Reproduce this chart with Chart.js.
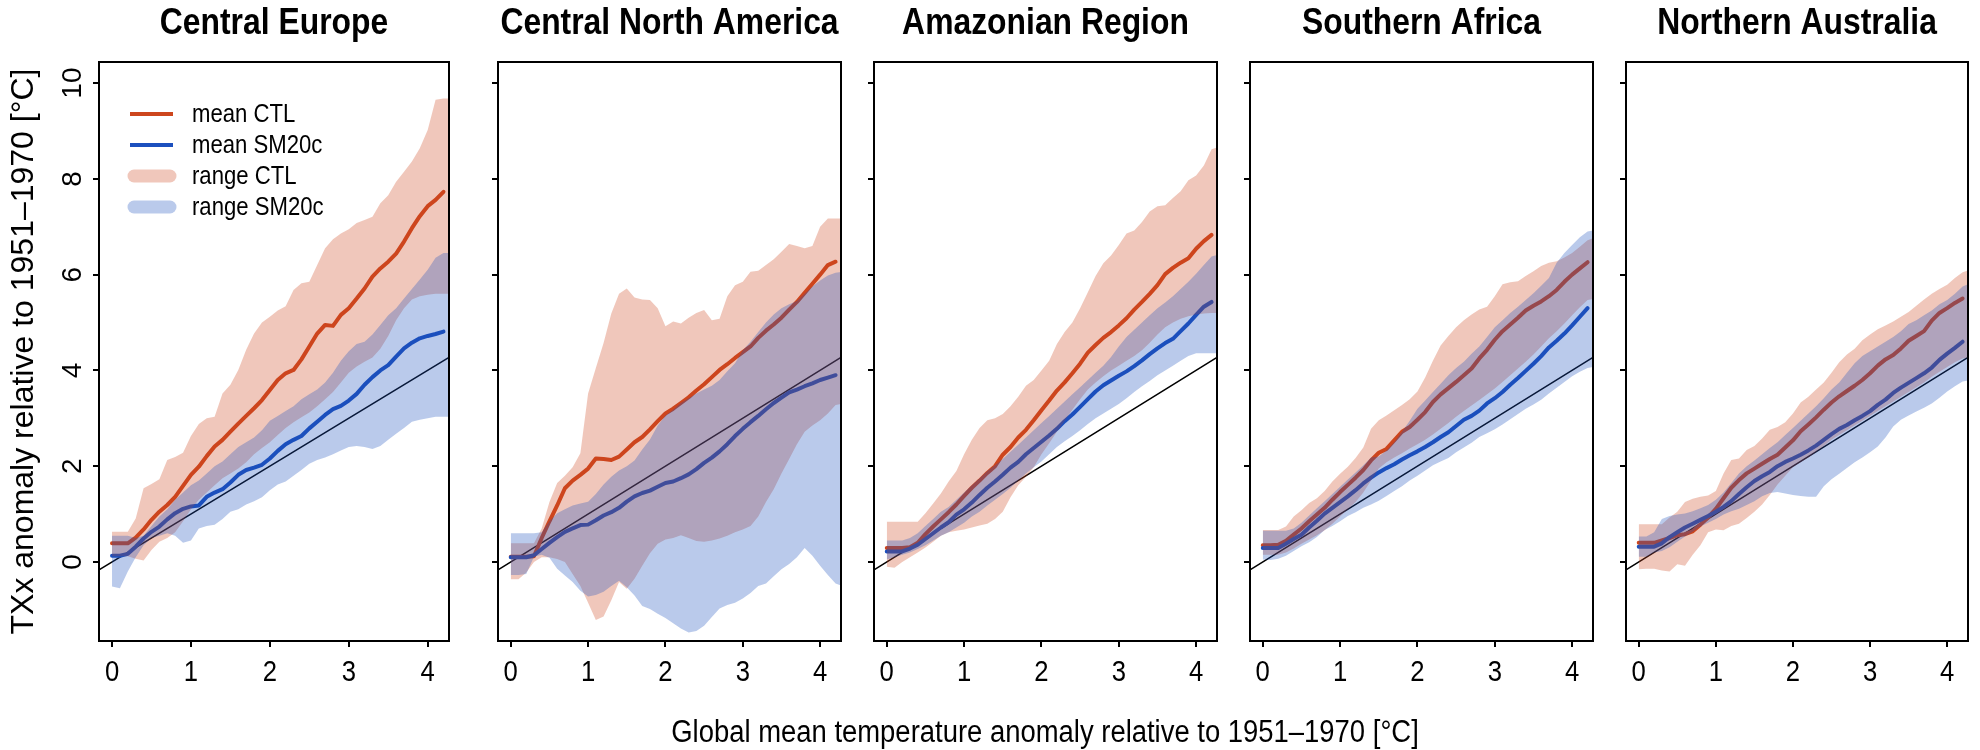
<!DOCTYPE html>
<html lang="en">
<head>
  <meta charset="UTF-8">
  <title>TXx anomaly vs global mean temperature</title>
  <script src="https://cdn.jsdelivr.net/npm/chart.js@4.4.1/dist/chart.umd.min.js"></script>
  <style>
    body { margin: 0; background: #fff; }
    #figure { position: relative; width: 1980px; height: 750px; overflow: hidden; background: #fff; }
    #figure canvas { position: absolute; top: 0; }
    #xTitle {
      position: absolute; top: 716px; left: 1045px;
      transform: translateX(-50%) scaleX(0.885); transform-origin: center;
      white-space: nowrap; color: #000;
      font: 31px 'Liberation Sans', Arial, sans-serif; line-height: 31px;
    }
  </style>
</head>
<body>
  <div id="figure">
    <canvas id="panel0"></canvas>
    <canvas id="panel1"></canvas>
    <canvas id="panel2"></canvas>
    <canvas id="panel3"></canvas>
    <canvas id="panel4"></canvas>
    <div id="xTitle">Global mean temperature anomaly relative to 1951–1970 [°C]</div>
  </div>

  <script>
    // global mean temperature anomaly (x), shared by every series
    const gmt = [0, 0.1, 0.2, 0.3, 0.4, 0.5, 0.6, 0.7, 0.8, 0.9, 1, 1.1, 1.2, 1.3, 1.4, 1.5, 1.6, 1.7, 1.8, 1.9,
      2, 2.1, 2.2, 2.3, 2.4, 2.5, 2.6, 2.7, 2.8, 2.9, 3, 3.1, 3.2, 3.3, 3.4, 3.5, 3.6, 3.7, 3.8, 3.9, 4, 4.1, 4.2, 4.3];
    const xTicks = [0, 1, 2, 3, 4];
    const yTicks = [0, 2, 4, 6, 8, 10];
    const oneToOne = [-0.2, 4.3];
    const regionNames = ['Central Europe', 'Central North America', 'Amazonian Region', 'Southern Africa', 'Northern Australia'];
    const legendLabels = ['mean CTL', 'mean SM20c', 'range CTL', 'range SM20c'];

    // Central Europe
    const ceMeanCTL = [0.39, 0.39, 0.39, 0.51, 0.68, 0.88, 1.05, 1.19, 1.36, 1.59, 1.82, 1.99, 2.21, 2.41, 2.55, 2.72, 2.89, 3.05, 3.21, 3.38, 3.59, 3.8, 3.94, 4.01, 4.23, 4.5, 4.77, 4.95, 4.93, 5.16, 5.3, 5.5, 5.71, 5.96, 6.13, 6.27, 6.44, 6.69, 6.97, 7.22, 7.43, 7.56, 7.73];
    const ceMeanSM = [0.13, 0.13, 0.17, 0.32, 0.49, 0.63, 0.74, 0.89, 1.02, 1.11, 1.16, 1.18, 1.36, 1.45, 1.52, 1.66, 1.82, 1.92, 1.97, 2.03, 2.16, 2.32, 2.46, 2.55, 2.63, 2.79, 2.93, 3.07, 3.19, 3.26, 3.37, 3.51, 3.7, 3.86, 4.0, 4.11, 4.29, 4.46, 4.58, 4.67, 4.72, 4.76, 4.81];
    const ceHighCTL = [0.63, 0.63, 0.63, 0.91, 1.54, 1.63, 1.73, 2.13, 2.19, 2.28, 2.63, 2.88, 3.0, 3.03, 3.52, 3.7, 4.01, 4.43, 4.77, 5.0, 5.12, 5.25, 5.34, 5.68, 5.82, 5.85, 6.2, 6.55, 6.74, 6.86, 6.95, 7.08, 7.14, 7.21, 7.49, 7.66, 7.94, 8.15, 8.36, 8.64, 9.02, 9.65, 9.68, 9.68];
    const ceLowCTL = [0.12, 0.12, 0.12, 0.07, 0.03, 0.25, 0.42, 0.5, 0.62, 0.85, 1.1, 1.3, 1.45, 1.6, 1.75, 1.85, 1.95, 2.08, 2.25, 2.38, 2.5, 2.65, 2.8, 2.92, 3.02, 3.12, 3.25, 3.4, 3.55, 3.75, 3.95, 4.08, 4.18, 4.27, 4.45, 4.72, 5.05, 5.3, 5.48, 5.55, 5.58, 5.6, 5.6, 5.6];
    const ceHighSM = [0.55, 0.55, 0.55, 0.5, 0.55, 0.75, 0.95, 1.1, 1.3, 1.45, 1.6, 1.7, 1.85, 2.0, 2.1, 2.25, 2.4, 2.5, 2.6, 2.75, 2.95, 3.05, 3.15, 3.25, 3.4, 3.5, 3.6, 3.75, 3.95, 4.2, 4.4, 4.55, 4.6, 4.75, 4.95, 5.15, 5.3, 5.5, 5.7, 5.9, 6.1, 6.35, 6.45, 6.45];
    const ceLowSM = [-0.51, -0.55, -0.2, 0.1, 0.35, 0.5, 0.55, 0.6, 0.55, 0.4, 0.45, 0.7, 0.75, 0.78, 0.9, 1.05, 1.1, 1.2, 1.27, 1.35, 1.5, 1.62, 1.68, 1.8, 1.92, 2.05, 2.13, 2.18, 2.25, 2.33, 2.4, 2.42, 2.4, 2.36, 2.42, 2.55, 2.68, 2.8, 2.93, 2.97, 3.0, 3.03, 3.03, 3.03];

    // Central North America
    const cnaMeanCTL = [0.11, 0.11, 0.11, 0.12, 0.5, 0.85, 1.18, 1.54, 1.7, 1.82, 1.95, 2.16, 2.15, 2.13, 2.2, 2.35, 2.5, 2.61, 2.77, 2.94, 3.1, 3.2, 3.32, 3.44, 3.58, 3.71, 3.86, 4.01, 4.13, 4.26, 4.38, 4.5, 4.68, 4.83, 4.96, 5.1, 5.27, 5.43, 5.62, 5.81, 6.0, 6.2, 6.27];
    const cnaMeanSM = [0.1, 0.1, 0.1, 0.14, 0.27, 0.4, 0.52, 0.63, 0.7, 0.77, 0.78, 0.87, 0.97, 1.04, 1.13, 1.26, 1.37, 1.44, 1.49, 1.57, 1.65, 1.68, 1.75, 1.83, 1.94, 2.07, 2.18, 2.31, 2.46, 2.63, 2.78, 2.92, 3.05, 3.19, 3.32, 3.43, 3.54, 3.6, 3.67, 3.73, 3.8, 3.85, 3.9];
    const cnaHighCTL = [0.39, 0.39, 0.39, 0.39, 0.7, 1.25, 1.65, 1.8, 1.98, 2.27, 3.52, 4.05, 4.57, 5.19, 5.6, 5.71, 5.52, 5.48, 5.47, 5.3, 4.92, 5.02, 4.98, 5.1, 5.2, 5.26, 5.05, 5.08, 5.55, 5.78, 5.85, 6.06, 6.08, 6.2, 6.32, 6.48, 6.64, 6.6, 6.55, 6.6, 7.0, 7.17, 7.17, 7.17];
    const cnaLowCTL = [-0.36, -0.36, -0.22, 0.0, 0.1, 0.1, 0.06, 0.0, -0.25, -0.5, -0.85, -1.21, -1.14, -0.8, -0.42, -0.56, -0.35, -0.08, 0.18, 0.38, 0.47, 0.5, 0.56, 0.5, 0.44, 0.42, 0.45, 0.49, 0.55, 0.62, 0.68, 0.75, 0.95, 1.25, 1.52, 1.85, 2.15, 2.46, 2.72, 2.85, 2.96, 3.1, 3.28, 3.31];
    const cnaHighSM = [0.6, 0.6, 0.6, 0.6, 0.62, 0.85, 1.02, 1.1, 1.18, 1.22, 1.26, 1.42, 1.62, 1.78, 1.91, 2.0, 2.12, 2.35, 2.56, 2.85, 3.06, 3.18, 3.32, 3.42, 3.52, 3.6, 3.68, 3.8, 3.98, 4.15, 4.42, 4.6, 4.8, 5.0, 5.17, 5.3, 5.38, 5.45, 5.6, 5.75, 5.88, 5.98, 6.04, 6.06];
    const cnaLowSM = [-0.27, -0.27, -0.25, 0.11, 0.15, 0.09, -0.14, -0.28, -0.42, -0.6, -0.72, -0.69, -0.62, -0.5, -0.39, -0.53, -0.7, -0.92, -0.98, -1.08, -1.17, -1.28, -1.39, -1.47, -1.44, -1.33, -1.15, -0.97, -0.9, -0.85, -0.76, -0.65, -0.5, -0.45, -0.3, -0.15, -0.04, 0.1, 0.29, 0.13, -0.08, -0.27, -0.45, -0.51];

    // Amazonian Region
    const amzMeanCTL = [0.29, 0.29, 0.29, 0.31, 0.4, 0.58, 0.74, 0.89, 1.04, 1.2, 1.38, 1.55, 1.7, 1.86, 2.0, 2.24, 2.4, 2.6, 2.76, 2.96, 3.17, 3.37, 3.58, 3.75, 3.94, 4.14, 4.37, 4.53, 4.68, 4.8, 4.94, 5.09, 5.27, 5.43, 5.6, 5.78, 6.01, 6.14, 6.25, 6.34, 6.54, 6.7, 6.83];
    const amzMeanSM = [0.22, 0.22, 0.22, 0.28, 0.36, 0.48, 0.6, 0.72, 0.83, 0.99, 1.1, 1.24, 1.4, 1.55, 1.68, 1.82, 1.97, 2.09, 2.25, 2.38, 2.51, 2.64, 2.78, 2.94, 3.08, 3.24, 3.4, 3.56, 3.69, 3.79, 3.89, 3.98, 4.09, 4.21, 4.34, 4.46, 4.57, 4.66, 4.82, 4.98, 5.16, 5.33, 5.43];
    const amzHighCTL = [0.84, 0.84, 0.84, 0.84, 0.84, 1.02, 1.22, 1.43, 1.68, 1.9, 2.25, 2.55, 2.8, 2.96, 3.0, 3.09, 3.25, 3.45, 3.68, 3.8, 4.0, 4.2, 4.55, 4.8, 5.0, 5.3, 5.63, 5.97, 6.24, 6.4, 6.62, 6.86, 6.92, 7.1, 7.32, 7.43, 7.45, 7.6, 7.74, 7.97, 8.07, 8.28, 8.62, 8.67];
    const amzLowCTL = [-0.1, -0.12, 0.0, 0.1, 0.2, 0.3, 0.42, 0.55, 0.62, 0.65, 0.68, 0.72, 0.76, 0.8, 0.9, 1.05, 1.35, 1.6, 1.78, 1.98, 2.25, 2.48, 2.72, 2.95, 3.18, 3.4, 3.6, 3.75, 3.88, 4.0, 4.1, 4.2, 4.3, 4.42, 4.58, 4.75, 4.9, 5.0, 5.08, 5.13, 5.17, 5.19, 5.2, 5.2];
    const amzHighSM = [0.45, 0.45, 0.45, 0.5, 0.6, 0.75, 0.9, 1.05, 1.15, 1.3, 1.45, 1.6, 1.75, 1.9, 2.02, 2.15, 2.3, 2.45, 2.6, 2.75, 2.9, 3.05, 3.2, 3.35, 3.5, 3.65, 3.8, 3.95, 4.1, 4.28, 4.5, 4.7, 4.85, 5.0, 5.15, 5.3, 5.42, 5.55, 5.7, 5.85, 6.02, 6.2, 6.38, 6.42];
    const amzLowSM = [0.05, 0.1, 0.15, 0.2, 0.27, 0.35, 0.45, 0.55, 0.62, 0.72, 0.82, 0.95, 1.05, 1.18, 1.3, 1.42, 1.55, 1.7, 1.85, 1.98, 2.1, 2.25, 2.4, 2.52, 2.63, 2.75, 2.88, 3.0, 3.1, 3.2, 3.3, 3.42, 3.55, 3.67, 3.78, 3.9, 4.0, 4.1, 4.2, 4.3, 4.36, 4.36, 4.36, 4.36];

    // Southern Africa
    const safMeanCTL = [0.35, 0.35, 0.36, 0.44, 0.57, 0.7, 0.85, 0.99, 1.13, 1.3, 1.46, 1.61, 1.76, 1.92, 2.12, 2.28, 2.36, 2.54, 2.72, 2.82, 2.97, 3.13, 3.34, 3.5, 3.63, 3.76, 3.9, 4.04, 4.25, 4.43, 4.64, 4.82, 4.96, 5.1, 5.25, 5.35, 5.44, 5.55, 5.68, 5.85, 6.0, 6.13, 6.26];
    const safMeanSM = [0.29, 0.29, 0.29, 0.38, 0.48, 0.57, 0.72, 0.86, 1.01, 1.13, 1.25, 1.37, 1.5, 1.64, 1.76, 1.87, 1.96, 2.04, 2.14, 2.23, 2.31, 2.4, 2.5, 2.61, 2.71, 2.84, 2.97, 3.05, 3.16, 3.31, 3.42, 3.55, 3.7, 3.84, 3.99, 4.14, 4.3, 4.48, 4.62, 4.77, 4.94, 5.12, 5.3];
    const safHighCTL = [0.67, 0.67, 0.67, 0.74, 0.95, 1.08, 1.23, 1.33, 1.48, 1.68, 1.84, 1.99, 2.17, 2.39, 2.78, 2.96, 3.06, 3.17, 3.28, 3.4, 3.56, 3.85, 4.2, 4.52, 4.72, 4.9, 5.05, 5.17, 5.27, 5.33, 5.55, 5.8, 5.84, 5.86, 5.97, 6.07, 6.18, 6.25, 6.28, 6.36, 6.45, 6.58, 6.72, 6.78];
    const safLowCTL = [0.15, 0.15, 0.15, 0.2, 0.28, 0.38, 0.47, 0.56, 0.66, 0.8, 0.95, 1.1, 1.25, 1.45, 1.7, 1.95, 2.08, 2.18, 2.27, 2.37, 2.46, 2.55, 2.66, 2.78, 2.9, 3.03, 3.15, 3.27, 3.38, 3.5, 3.62, 3.76, 3.9, 4.04, 4.18, 4.33, 4.5, 4.67, 4.82, 4.98, 5.15, 5.32, 5.47, 5.5];
    const safHighSM = [0.65, 0.65, 0.65, 0.65, 0.7, 0.82, 0.97, 1.12, 1.27, 1.42, 1.57, 1.72, 1.87, 2.02, 2.18, 2.2, 2.33, 2.5, 2.72, 2.95, 3.2, 3.37, 3.55, 3.72, 3.9, 4.05, 4.18, 4.35, 4.5, 4.7, 4.9, 5.05, 5.2, 5.33, 5.47, 5.61, 5.77, 5.93, 6.25, 6.45, 6.62, 6.78, 6.9, 6.93];
    const safLowSM = [0.05, 0.04, 0.07, 0.13, 0.23, 0.33, 0.41, 0.52, 0.67, 0.75, 0.85, 0.96, 1.04, 1.13, 1.2, 1.28, 1.38, 1.48, 1.58, 1.7, 1.8, 1.91, 2.02, 2.1, 2.17, 2.29, 2.39, 2.49, 2.61, 2.69, 2.77, 2.87, 2.98, 3.09, 3.2, 3.29, 3.39, 3.52, 3.64, 3.76, 3.88, 3.97, 4.05, 4.08];

    // Northern Australia
    const nauMeanCTL = [0.4, 0.4, 0.4, 0.45, 0.5, 0.56, 0.58, 0.64, 0.78, 0.93, 1.11, 1.33, 1.55, 1.71, 1.85, 1.95, 2.05, 2.15, 2.24, 2.39, 2.54, 2.73, 2.87, 3.02, 3.18, 3.33, 3.46, 3.57, 3.68, 3.8, 3.94, 4.1, 4.23, 4.32, 4.46, 4.62, 4.72, 4.82, 5.04, 5.2, 5.3, 5.41, 5.5];
    const nauMeanSM = [0.32, 0.32, 0.32, 0.39, 0.52, 0.62, 0.72, 0.8, 0.88, 0.96, 1.05, 1.15, 1.27, 1.42, 1.56, 1.69, 1.79, 1.88, 2.0, 2.09, 2.16, 2.24, 2.33, 2.43, 2.55, 2.67, 2.78, 2.86, 2.96, 3.05, 3.15, 3.28, 3.39, 3.53, 3.64, 3.74, 3.84, 3.94, 4.06, 4.22, 4.35, 4.47, 4.6];
    const nauHighCTL = [0.79, 0.79, 0.79, 0.79, 0.93, 1.05, 1.25, 1.32, 1.36, 1.39, 1.48, 1.85, 2.13, 2.16, 2.34, 2.42, 2.58, 2.76, 2.82, 2.92, 3.1, 3.33, 3.45, 3.6, 3.75, 3.95, 4.17, 4.33, 4.45, 4.63, 4.75, 4.86, 4.94, 5.02, 5.12, 5.22, 5.35, 5.48, 5.6, 5.7, 5.79, 5.93, 6.05, 6.1];
    const nauLowCTL = [-0.15, -0.14, -0.14, -0.18, -0.2, -0.05, -0.08, 0.15, 0.35, 0.62, 0.68, 0.66, 0.75, 0.8, 0.92, 1.05, 1.2, 1.4, 1.62, 1.8, 1.98, 2.08, 2.18, 2.3, 2.42, 2.55, 2.65, 2.75, 2.85, 2.95, 3.05, 3.15, 3.25, 3.35, 3.45, 3.55, 3.65, 3.75, 3.87, 3.97, 4.07, 4.17, 4.25, 4.28];
    const nauHighSM = [0.53, 0.53, 0.62, 0.9, 0.96, 0.99, 1.01, 1.06, 1.12, 1.19, 1.3, 1.45, 1.65, 1.85, 2.0, 2.12, 2.25, 2.38, 2.5, 2.65, 2.8, 2.95, 3.1, 3.25, 3.42, 3.6, 3.75, 3.95, 4.15, 4.3, 4.4, 4.5, 4.6, 4.7, 4.82, 4.97, 5.05, 5.15, 5.25, 5.38, 5.47, 5.6, 5.75, 5.82];
    const nauLowSM = [0.11, 0.11, 0.2, 0.23, 0.31, 0.42, 0.53, 0.63, 0.74, 0.82, 0.9, 0.99, 1.06, 1.11, 1.19, 1.27, 1.37, 1.44, 1.46, 1.43, 1.4, 1.38, 1.36, 1.36, 1.58, 1.73, 1.84, 1.96, 2.08, 2.18, 2.29, 2.41, 2.6, 2.83, 2.97, 3.06, 3.14, 3.22, 3.31, 3.43, 3.56, 3.67, 3.77, 3.8];

    const regions = [
      { meanCTL: ceMeanCTL, meanSM: ceMeanSM, highCTL: ceHighCTL, lowCTL: ceLowCTL, highSM: ceHighSM, lowSM: ceLowSM },
      { meanCTL: cnaMeanCTL, meanSM: cnaMeanSM, highCTL: cnaHighCTL, lowCTL: cnaLowCTL, highSM: cnaHighSM, lowSM: cnaLowSM },
      { meanCTL: amzMeanCTL, meanSM: amzMeanSM, highCTL: amzHighCTL, lowCTL: amzLowCTL, highSM: amzHighSM, lowSM: amzLowSM },
      { meanCTL: safMeanCTL, meanSM: safMeanSM, highCTL: safHighCTL, lowCTL: safLowCTL, highSM: safHighSM, lowSM: safLowSM },
      { meanCTL: nauMeanCTL, meanSM: nauMeanSM, highCTL: nauHighCTL, lowCTL: nauLowCTL, highSM: nauHighSM, lowSM: nauLowSM }
    ];

    const RED = 'rgb(205,70,29)';
    const BLUE = 'rgb(28,80,190)';
    const RED_BAND = 'rgba(205,70,29,0.3)';
    const BLUE_BAND = 'rgba(28,80,190,0.3)';
    const SANS = "'Liberation Sans', Arial, sans-serif";
    // horizontal text is set a little condensed
    const CONDENSE = 0.885;

    // plot boxes in page pixels
    const boxLeft = [99, 498, 874, 1250, 1626];
    const boxRight = [449, 841, 1217, 1593, 1968];
    const boxTop = 62;

    Chart.defaults.font.family = SANS;
    Chart.defaults.color = '#000';

    function points(values) {
      return values.map((v, i) => ({ x: gmt[i], y: v }));
    }

    function condensedText(ctx, text, x, y) {
      const w = ctx.measureText(text).width;
      ctx.fillText(text, x, y, w * CONDENSE);
    }

    // frame around the plotting region, panel title and tick labels
    const frame = {
      id: 'frame',
      afterDraw(chart, args, opts) {
        const a = chart.chartArea, ctx = chart.ctx;
        const xs = chart.scales.x, ys = chart.scales.y;
        ctx.save();
        ctx.strokeStyle = '#000';
        ctx.lineWidth = 2;
        ctx.strokeRect(a.left, a.top, a.right - a.left, a.bottom - a.top);

        ctx.fillStyle = '#000';
        ctx.textAlign = 'center';
        ctx.textBaseline = 'middle';
        ctx.font = 'bold 36px ' + SANS;
        condensedText(ctx, opts.title, (a.left + a.right) / 2, 24);

        ctx.font = '29px ' + SANS;
        xTicks.forEach(v => {
          condensedText(ctx, String(v), xs.getPixelForValue(v), a.bottom + 32);
        });

        // y labels run along the axis, as in R's default style
        if (opts.yLabels) {
          ctx.font = '28px ' + SANS;
          yTicks.forEach(v => {
            ctx.save();
            ctx.translate(a.left - 26, ys.getPixelForValue(v));
            ctx.rotate(-Math.PI / 2);
            ctx.fillText(String(v), 0, 0);
            ctx.restore();
          });
        }
        ctx.restore();
      }
    };

    // legend in the top left corner of the first panel
    const legendStyles = [
      { color: RED, width: 4, cap: 'butt', from: 31, to: 74 },
      { color: BLUE, width: 4, cap: 'butt', from: 31, to: 74 },
      { color: RED_BAND, width: 13, cap: 'round', from: 35, to: 71 },
      { color: BLUE_BAND, width: 13, cap: 'round', from: 35, to: 71 }
    ];
    const insideLegend = {
      id: 'insideLegend',
      afterDraw(chart) {
        const a = chart.chartArea, ctx = chart.ctx;
        ctx.save();
        legendLabels.forEach((label, k) => {
          const s = legendStyles[k];
          const y = a.top + 52 + k * 31;
          ctx.strokeStyle = s.color;
          ctx.lineWidth = s.width;
          ctx.lineCap = s.cap;
          ctx.beginPath();
          ctx.moveTo(a.left + s.from, y);
          ctx.lineTo(a.left + s.to, y);
          ctx.stroke();
          ctx.fillStyle = '#000';
          ctx.font = '25px ' + SANS;
          ctx.textAlign = 'left';
          ctx.textBaseline = 'middle';
          condensedText(ctx, label, a.left + 93, y + 1);
        });
        ctx.restore();
      }
    };

    regions.forEach((r, i) => {
      const first = i === 0;
      const axisWidth = first ? 99 : 20;
      const canvas = document.getElementById('panel' + i);
      canvas.width = axisWidth + boxRight[i] - boxLeft[i] + 3;
      canvas.height = 750;
      canvas.style.left = (boxLeft[i] - axisWidth) + 'px';

      new Chart(canvas, {
        type: 'line',
        data: {
          datasets: [
            { label: '1:1', data: oneToOne.map(v => ({ x: v, y: v })), borderColor: '#000', borderWidth: 1.5, order: 6, clip: 0 },
            { label: 'mean CTL', data: points(r.meanCTL), borderColor: RED, borderWidth: 4, order: 5 },
            { label: 'mean SM20c', data: points(r.meanSM), borderColor: BLUE, borderWidth: 4, order: 4 },
            { label: 'range CTL', data: points(r.highCTL), fill: '+1', backgroundColor: RED_BAND, borderWidth: 0, order: 3 },
            { label: 'range CTL (low)', data: points(r.lowCTL), borderWidth: 0, order: 3 },
            { label: 'range SM20c', data: points(r.highSM), fill: '+1', backgroundColor: BLUE_BAND, borderWidth: 0, order: 2 },
            { label: 'range SM20c (low)', data: points(r.lowSM), borderWidth: 0, order: 2 }
          ]
        },
        options: {
          responsive: false,
          animation: false,
          devicePixelRatio: 1,
          events: [],
          layout: { padding: { left: 0, right: 3, top: boxTop, bottom: 0 } },
          elements: {
            point: { radius: 0 },
            line: { tension: 0, borderJoinStyle: 'round', borderCapStyle: 'round' }
          },
          plugins: {
            legend: { display: false },
            tooltip: { enabled: false },
            title: { display: false },
            frame: { title: regionNames[i], yLabels: first }
          },
          scales: {
            x: {
              type: 'linear',
              min: -0.165,
              max: 4.27,
              bounds: 'data',
              afterBuildTicks: s => { s.ticks = xTicks.map(v => ({ value: v })); },
              afterFit: s => { s.height = 109; },
              grid: { drawOnChartArea: false, drawTicks: true, tickLength: 6, color: '#000', lineWidth: 2 },
              border: { display: false },
              ticks: { display: false }
            },
            y: {
              type: 'linear',
              min: -1.65,
              max: 10.44,
              bounds: 'data',
              afterBuildTicks: s => { s.ticks = yTicks.map(v => ({ value: v })); },
              afterFit: s => { s.width = axisWidth; },
              grid: { drawOnChartArea: false, drawTicks: true, tickLength: 6, color: '#000', lineWidth: 2 },
              border: { display: false },
              ticks: { display: false },
              title: {
                display: first,
                text: 'TXx anomaly relative to 1951–1970 [°C]',
                color: '#000',
                font: { family: SANS, size: 32 },
                padding: { top: 5, bottom: 0 }
              }
            }
          }
        },
        plugins: first ? [frame, insideLegend] : [frame]
      });
    });
  </script>
</body>
</html>
